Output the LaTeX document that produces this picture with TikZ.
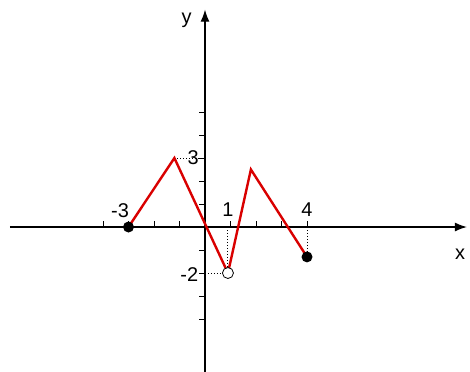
\documentclass[tikz,border=0pt]{standalone}
\usepackage{fontspec}
\setmainfont{Liberation Sans}
\usetikzlibrary{arrows.meta, positioning}

\begin{document}
\begin{tikzpicture}[
  x=25.5bp, y=23bp,
  >=Latex,
  axis/.style={-{Latex[length=12bp, width=9bp]}, line width=1.2bp},
  curve/.style={draw=red!85!black, line width=2.4bp, line join=miter},
  guide/.style={dotted, line width=1bp},
  axtick/.style={line width=0.8bp},
  numlbl/.style={font=\fontsize{20}{22}\selectfont, inner sep=1bp},
  dot/.style={circle, fill=black, inner sep=0pt, minimum size=11bp},
  hole/.style={dot, draw=black, fill=white, line width=0.8bp}
]

  %=======================================
  \useasboundingbox (-8.039,-6.261) rectangle (10.392,9.870);

  % Axes ================================
  \coordinate (xmin) at (-7.65,0);
  \coordinate (xmax) at (10.27,0);
  \coordinate (ymin) at (0,-6.3);
  \coordinate (ymax) at (0,9.45);
  \draw[axis] (xmin) -- (xmax);
  \draw[axis] (ymin) -- (ymax);
  \node[numlbl] (xlbl) at (10.0,-1.2) {x};
  \node[numlbl] (ylbl) at (-0.72,9.0) {y};

  % graduations
  \foreach \i in {-4,...,-1,1,2,3,4}
    \draw[axtick] (\i,0) -- ++(0,0.25);
  \foreach \j in {-4,...,-1,1,2,3,4,5}
    \draw[axtick] (0,\j) -- ++(-0.22,0);

  % Points de la courbe
  \coordinate (ptA) at (-3,0);
  \coordinate (ptB) at (-1.2,3);
  \coordinate (ptC) at (0.9,-2);
  \coordinate (ptD) at (1.8,2.5);
  \coordinate (ptE) at (4,-1.3);
  \coordinate (y3) at (0,3);
  \coordinate (ym2) at (0,-2);
  \coordinate (x1) at (0.9,0);
  \coordinate (x4) at (4,0);

  % pointilles
  \draw[guide] (ptB) -- (y3);
  \draw[guide] (x1) -- (ptC);
  \draw[guide] (ym2) -- (ptC);
  \draw[guide] (x4) -- (ptE);

  % courbe
  \draw[curve] (ptA) -- (ptB) -- (ptC) -- (ptD) -- (ptE);

  % extremites
  \node[dot] (dotA) at (ptA) {};
  \node[hole] (dotC) at (ptC) {};
  \node[dot] (dotE) at (ptE) {};

  % valeurs
  \node[numlbl] (lblA) at (-3.33,0.72) {-3};
  \node[numlbl, anchor=east] (lblB) at (-0.2,3) {3};
  \node[numlbl] (lblC) at (0.9,0.76) {1};
  \node[numlbl] (lblE) at (4,0.76) {4};
  \node[numlbl, anchor=east] (lblM) at (-0.22,-2.05) {-2};

  %=======================================

\end{tikzpicture}
\end{document}
